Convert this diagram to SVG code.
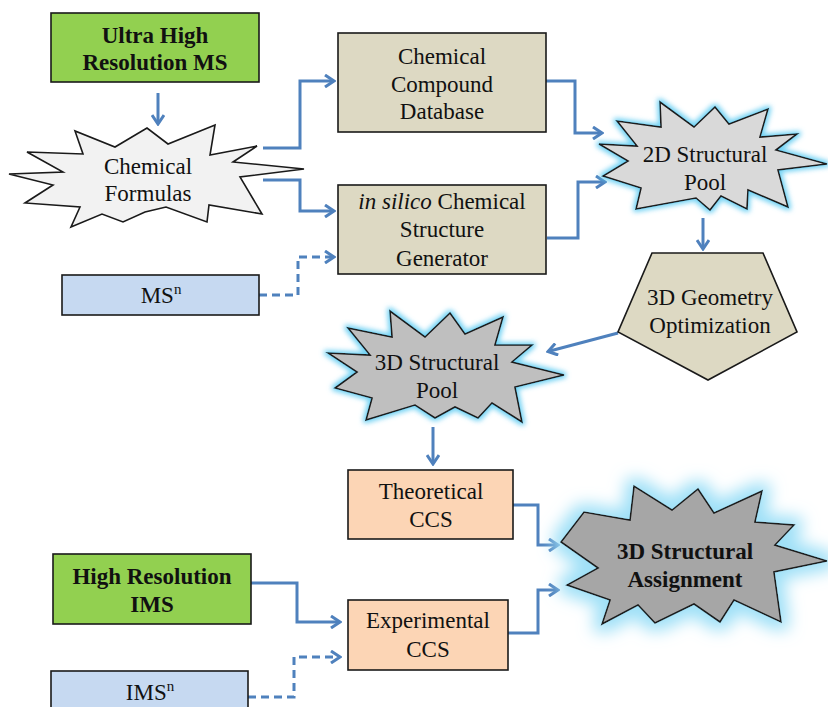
<svg xmlns="http://www.w3.org/2000/svg" width="828" height="707" viewBox="0 0 828 707">
<style>
.t{font-family:'Liberation Serif','Tinos','Times New Roman','DejaVu Serif',serif;font-size:23px;fill:#111;text-anchor:middle}
.b{font-weight:bold}
.box{stroke:#1a1a1a;stroke-width:1.6}
.green{fill:#92D050}
.tan{fill:#DDD9C3}
.blue{fill:#C6D9F1}
.peach{fill:#FCD5B5}
.conn{fill:none;stroke:#4F81BD;stroke-width:3;marker-end:url(#ah)}
.dash{stroke-dasharray:8 5}
</style>
<defs>
<marker id="ah" viewBox="0 0 14 14" refX="12" refY="7" markerWidth="14" markerHeight="14" markerUnits="userSpaceOnUse" orient="auto">
<path d="M3,1 L12,7 L3,13" fill="none" stroke="#4F81BD" stroke-width="3"/>
</marker>
<filter id="glow" x="-20%" y="-30%" width="140%" height="160%">
<feMorphology in="SourceAlpha" operator="dilate" radius="2" result="d"/>
<feGaussianBlur in="d" stdDeviation="2.5" result="bl"/>
<feFlood flood-color="#5CCBF2" flood-opacity="0.85"/>
<feComposite in2="bl" operator="in" result="g"/>
<feMerge><feMergeNode in="g"/><feMergeNode in="SourceGraphic"/></feMerge>
</filter>
<filter id="bigglow" x="-30%" y="-40%" width="160%" height="180%">
<feMorphology in="SourceAlpha" operator="dilate" radius="7" result="d"/>
<feGaussianBlur in="d" stdDeviation="8" result="bl"/>
<feFlood flood-color="#9FE0F7" flood-opacity="1"/>
<feComposite in2="bl" operator="in" result="g"/>
<feMerge><feMergeNode in="g"/><feMergeNode in="SourceGraphic"/></feMerge>
</filter>
</defs>
<rect width="828" height="707" fill="#fff"/>

<g id="connectors">
<path class="conn" d="M158,93 V124"/>
<path class="conn" d="M263,148 H300 V81 H334"/>
<path class="conn" d="M263,180 H300 V211 H334"/>
<path class="conn dash" d="M259,295 H298 V257 H334"/>
<path class="conn" d="M546,81 H575 V133 H602"/>
<path class="conn" d="M547,238 H578 V182 H605"/>
<path class="conn" d="M703,218 V249"/>
<path class="conn" d="M618,333 L548,351.5"/>
<path class="conn" d="M433,427 V464"/>
<path class="conn" d="M513,505 H538 V545 H558"/>
<path class="conn" d="M508,633 H538 V590 H558"/>
<path class="conn" d="M251,583 H297 V622 H340"/>
<path class="conn dash" d="M248,697 H294 V657 H340"/>
</g>

<g id="ultra-high-resolution-ms">
<rect class="box green" x="51" y="13" width="208" height="69"/>
<text class="t b" x="155" y="43">Ultra High</text>
<text class="t b" x="155" y="70">Resolution MS</text>
</g>

<g id="chemical-formulas">
<polygon class="box" fill="#F2F2F2" points="9,174 53,185 25,203 80,207 71,227 102,214 123,222 145,212 166,207 207,222 209,205 262,214 240,177 304,169 233,162 257,146 210,155 215,125 168,144 147,128 115,147 75,131 83,154 27,152 63,172"/>
<text class="t" x="148" y="174">Chemical</text>
<text class="t" x="148" y="201">Formulas</text>
</g>

<g id="chemical-compound-database">
<rect class="box tan" x="338" y="33" width="208" height="99"/>
<text class="t" x="442" y="64">Chemical</text>
<text class="t" x="442" y="92">Compound</text>
<text class="t" x="442" y="119">Database</text>
</g>

<g id="in-silico-generator">
<rect class="box tan" x="338" y="185" width="208" height="89"/>
<text class="t" x="442" y="209"><tspan font-style="italic">in silico</tspan> Chemical</text>
<text class="t" x="442" y="237">Structure</text>
<text class="t" x="442" y="266">Generator</text>
</g>

<g id="msn">
<rect class="box blue" x="62" y="275" width="197" height="40"/>
<text class="t" x="161" y="303">MS<tspan font-size="15" dy="-9">n</tspan></text>
</g>

<g id="pool-2d">
<polygon class="box" fill="#D9D9D9" filter="url(#glow)" points="599,144 637,146 617,121 661,127 660,102 694,127 715,107 729,124 768,109 760,137 797,134 776,150 827,164 778,170 788,207 748,190 747,209 721,196 710,210 696,198 636,209 641,188 603,176 628,161"/>
<text class="t" x="705" y="162">2D Structural</text>
<text class="t" x="705" y="190">Pool</text>
</g>

<g id="geometry-optimization">
<polygon class="box tan" points="652,253 763,253 797,332 708,380 618,332"/>
<text class="t" x="710" y="305">3D Geometry</text>
<text class="t" x="710" y="333">Optimization</text>
</g>

<g id="pool-3d">
<polygon class="box" fill="#BFBFBF" filter="url(#glow)" points="328,353 370,355 348,328 392,337 390,311 425,337 450,313 465,334 503,317 495,345 532,345 512,362 564,375 515,387 522,422 492,403 478,418 455,407 435,418 415,405 366,420 372,398 335,388 357,372"/>
<text class="t" x="437" y="370">3D Structural</text>
<text class="t" x="437" y="398">Pool</text>
</g>

<g id="theoretical-ccs">
<rect class="box peach" x="348" y="470" width="165" height="69"/>
<text class="t" x="431" y="499">Theoretical</text>
<text class="t" x="431" y="527">CCS</text>
</g>

<g id="structural-assignment">
<polygon class="box" fill="#A6A6A6" filter="url(#bigglow)" points="561,542 584,512 630,520 634,486 672,510 698,489 714,513 762,491 755,522 794,525 775,545 827,561 774,572 781,622 734,600 720,622 694,604 655,623 638,605 602,624 610,600 567,585 598,568"/>
<text class="t b" x="685" y="559">3D Structural</text>
<text class="t b" x="685" y="587">Assignment</text>
</g>

<g id="high-resolution-ims">
<rect class="box green" x="53" y="554" width="198" height="70"/>
<text class="t b" x="152" y="584">High Resolution</text>
<text class="t b" x="152" y="612">IMS</text>
</g>

<g id="experimental-ccs">
<rect class="box peach" x="348" y="600" width="160" height="70"/>
<text class="t" x="428" y="628">Experimental</text>
<text class="t" x="428" y="657">CCS</text>
</g>

<g id="imsn">
<rect class="box blue" x="51" y="671" width="197" height="44"/>
<text class="t" x="150" y="700">IMS<tspan font-size="15" dy="-9">n</tspan></text>
</g>
</svg>
